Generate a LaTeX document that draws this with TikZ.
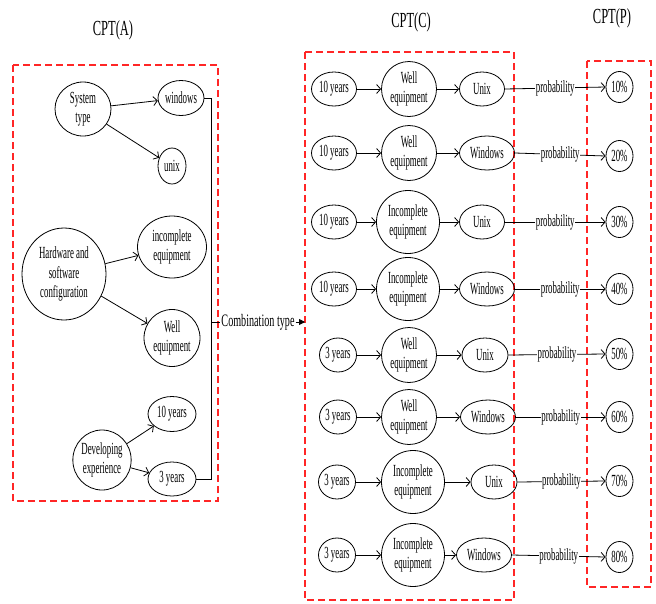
\documentclass[tikz,border=0pt]{standalone}
\usepackage{fontspec}
\setmainfont{Liberation Serif}[FakeStretch=0.52]
\newfontfamily\widefont{Liberation Serif}[FakeStretch=0.58]
\usetikzlibrary{shapes.geometric,arrows.meta}
\begin{document}
\begin{tikzpicture}[x=1pt,y=-1pt,
  every node/.style={font=\fontsize{17}{19.5}\selectfont},
  ell/.style 2 args={draw,ellipse,line width=0.8pt,minimum width=#1pt,minimum height=#2pt,inner sep=0pt,align=center},
  link/.style={line width=0.8pt,-{Straight Barb[length=4pt,width=9pt]}},
  plain/.style={line width=0.8pt},
  groupbox/.style={draw=red!85,line width=1.1pt,dash pattern=on 7pt off 4pt},
  plab/.style={fill=white,inner sep=0.5pt},
  title/.style={font=\widefont\fontsize{21.5}{24}\selectfont}]
\useasboundingbox (0,0) rectangle (656,603);

% group frames
\draw[groupbox] (13,65) rectangle (218,501);
\draw[groupbox] (305,52) rectangle (514,600);
\draw[groupbox] (587,61) rectangle (651,587);

% titles
\node[title] (ta) at (113,30) {CPT(A)};
\node[title] (tc) at (411,22) {CPT(C)};
\node[title] (tp) at (612,18) {CPT(P)};

% CPT(A): parent variables and their states
\node[ell={56}{54}] (sys) at (83,109) {System\\type};
\node[ell={46}{35}] (win) at (181,98) {windows};
\node[ell={28}{36}] (unx) at (172,166) {unix};
\node[ell={84}{92}] (hw) at (64,274) {Hardware and\\software\\configuration};
\node[ell={69}{62}] (inc) at (172,247) {incomplete\\equipment};
\node[ell={56}{57}] (wel) at (172,338) {Well\\equipment};
\node[ell={57}{60}] (dev) at (102,460) {Developing\\experience};
\node[ell={48}{35}] (ten) at (172,414) {10 years};
\node[ell={48}{34}] (thr) at (172,479) {3 years};

\draw[link] (sys) -- (win);
\draw[link] (sys) -- (unx);
\draw[link] (hw) -- (inc);
\draw[link] (hw) -- (wel);
\draw[link] (dev) -- (ten);
\draw[link] (dev) -- (thr);

% bracket collecting the states
\coordinate (bb) at (211,479);
\coordinate (cj) at (211,322);
\coordinate (cin) at (305,322);
\draw[plain] (win.east) -| (bb) -- (thr.east);
\node[font=\widefont\fontsize{17.5}{20}\selectfont,inner sep=1pt] (comb) at (258,322) {Combination type};
\draw[plain] (cj) -- (comb.west);
\draw[line width=0.8pt,-{Triangle[length=6pt,width=6pt]}] (comb.east) -- (cin);

% CPT(C): combinations, CPT(P): probabilities
\foreach \i/\y/\py/\yr/\yx/\yw/\eq/\ex/\es/\os/\ox/\ow/\p in {
  1/89/87/10 years/334/45/Well/409/55/Unix/482/45/10\%,
  2/153/156/10 years/334/45/Well/409/55/Windows/487/55/20\%,
  3/222/222/10 years/334/45/Incomplete/408/63/Unix/482/45/30\%,
  4/289/289/10 years/334/45/Incomplete/408/63/Windows/487/55/40\%,
  5/355/354/3 years/338/37/Well/409/55/Unix/485/46/50\%,
  6/417/417/3 years/338/37/Well/409/55/Windows/488/55/60\%,
  7/482/481/3 years/337/37/Incomplete/413/63/Unix/494/46/70\%,
  8/555/557/3 years/337/37/Incomplete/413/63/Windows/484/55/80\%}{
  \node[ell={\yw}{34}] (y\i) at (\yx,\y) {\yr};
  \node[ell={\es}{\es}] (e\i) at (\ex,\y) {\eq\\equipment};
  \node[ell={\ow}{34}] (o\i) at (\ox,\y) {\os};
  \node[ell={27}{31}] (p\i) at (619.5,\py) {\p};
  \draw[link] (y\i) -- (e\i);
  \draw[link] (e\i) -- (o\i);
  \draw[link] (o\i.east) -- node[plab] {probability} (p\i.west);
}
\end{tikzpicture}
\end{document}
